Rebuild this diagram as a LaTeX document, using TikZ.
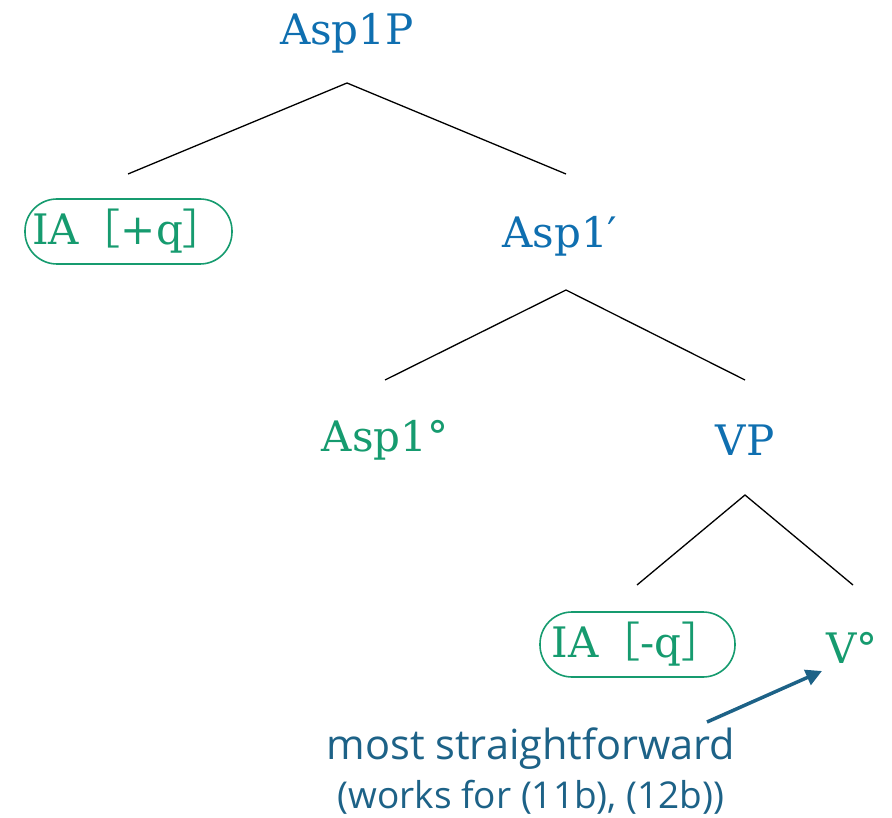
\documentclass[tikz,border=0pt]{standalone}
\usepackage{fontspec}
\setmainfont{DejaVu Serif}
\newfontfamily\labsans{Open Sans}
\newfontfamily\cjk{Noto Sans CJK SC}
\usetikzlibrary{arrows.meta}
\definecolor{tblue}{HTML}{0F6FB0}
\definecolor{tgreen}{HTML}{169B6F}
\definecolor{adark}{HTML}{1D6287}
\begin{document}
\begin{tikzpicture}[x=1pt,y=-1pt,
  lab/.style={font=\fontsize{42}{44}\selectfont, inner sep=0pt, anchor=center},
  bl/.style={lab, text=tblue},
  gr/.style={lab, text=tgreen},
  feat/.style={lab, text=tgreen, draw=tgreen, line width=1.6pt, rounded corners=32pt, minimum width=207pt, minimum height=65pt},
  br/.style={line width=1.3pt, black},
  note/.style={inner sep=0pt, anchor=center, text=adark}]
\useasboundingbox (0,0) rectangle (892,818);
\node[bl] (asp1p) at (347,33) {Asp1P};
\coordinate (a1) at (347,83);
\coordinate (a1l) at (128,174);
\coordinate (a1r) at (566,174);
\draw[br] (a1l) -- (a1) -- (a1r);
\node[feat] (iaq) at (128.5,231.5) {IA{\cjk［}+q{\cjk］}};
\node[bl] (asp1bar) at (560,236) {Asp1′};
\coordinate (a2) at (566,290);
\coordinate (a2l) at (385,380);
\coordinate (a2r) at (745,380);
\draw[br] (a2l) -- (a2) -- (a2r);
\node[gr] (asp1h) at (385,440) {Asp1°};
\node[bl] (vp) at (745,440) {VP};
\coordinate (a3) at (745,495);
\coordinate (a3l) at (637,585);
\coordinate (a3r) at (853,585);
\draw[br] (a3l) -- (a3) -- (a3r);
\node[feat, minimum width=195pt] (iamq) at (637.5,644.5) {IA{\cjk［}-q{\cjk］}};
\node[gr] (vh) at (852,648) {V°};
\node[note, font=\labsans\fontsize{41.5}{44}\selectfont] (ms) at (531,749) {most straightforward};
\node[note, font=\labsans\fontsize{37}{40}\selectfont] (wf) at (531,797) {(works for (11b), (12b))};
\coordinate (arS) at (707,722);
\coordinate (arE) at (822,671);
\draw[adark, line width=3.5pt, -{Triangle[length=16pt,width=16pt]}] (arS) -- (arE);
\end{tikzpicture}
\end{document}
